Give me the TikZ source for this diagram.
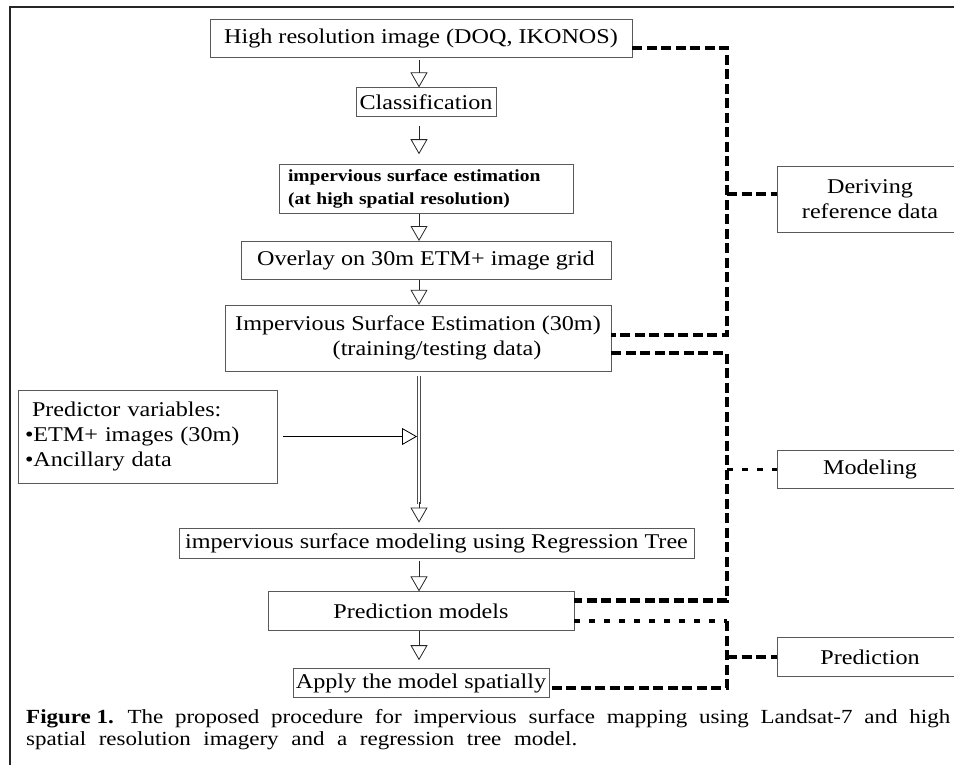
\documentclass[tikz,border=0pt]{standalone}
\usepackage{fontspec}
\setmainfont{Liberation Serif}[FakeStretch=1.15]
\usetikzlibrary{positioning,arrows.meta,calc}

\begin{document}
\begin{tikzpicture}[
  x=1pt, y=1pt,
  font=\fontsize{21}{25}\selectfont,
  box/.style={draw=black!65, line width=0.8pt, inner sep=0pt, align=center},
  small/.style={font=\bfseries\fontsize{17}{23}\selectfont},
  flow/.style={-{Triangle[open,length=15pt,width=17pt,line width=0.8pt]}, line width=1pt, black!85},
  dbl/.style={double, double distance=2.6pt, line width=0.8pt, draw=black!70},
  refl/.style={line width=4.5pt, dash pattern=on 10pt off 4.5pt},
  dotl/.style={line width=4pt, dash pattern=on 6pt off 9pt},
  mdl/.style={line width=3pt, dash pattern=on 6pt off 9pt},
  capt/.style={font=\fontsize{20}{22}\selectfont, inner sep=0pt},
]
\useasboundingbox (0,0) rectangle (954,-764);
\clip (0,0) rectangle (954,-764);
\draw[line width=1.6pt, black!85] (10,-7) rectangle (980,-790);

\coordinate (spine) at (419,0);
\coordinate (trunk) at (727,0);

% ===== main column =====
\node[box, minimum width=422pt, minimum height=38pt] (hr) at (421,-38) {High resolution image (DOQ, IKONOS)};
\node[box, minimum width=140pt, minimum height=29pt, below=30pt of hr, xshift=5pt] (cls) {Classification};
\node[box, small, text width=276pt, inner xsep=9pt, minimum height=49pt, align=left, below=47pt of cls] (hse)
  {impervious surface estimation\\(at high spatial resolution)};
\node[box, minimum width=370pt, minimum height=38pt, below=27pt of hse] (ovl) {Overlay on 30m ETM+ image grid};
\node[box, minimum width=386pt, minimum height=66pt, below=25pt of ovl, xshift=-8pt] (ise)
  {Impervious Surface Estimation (30m)\\\hspace*{38pt}(training/testing data)};
\node[box, minimum width=515pt, minimum height=30pt, below=156pt of ise, xshift=18.5pt] (itm)
  {impervious surface modeling using Regression Tree};
\node[box, minimum width=306pt, minimum height=39pt, below=33pt of itm, xshift=-15.5pt] (pm) {Prediction models};
\node[box, minimum width=256pt, minimum height=29pt, below=37pt of pm] (app) {Apply the model spatially};

% ===== predictor variables =====
\node[box, text width=245pt, inner xsep=7pt, minimum height=93pt, align=left] (pred) at (147.5,-436.5)
  {\hspace*{7pt}Predictor variables:\\•ETM+ images (30m)\\•Ancillary data};

% ===== stages on the right =====
\node[box, minimum width=186pt, minimum height=66pt] (deriv) at (870,-199) {Deriving\\reference data};
\node[box, minimum width=186pt, minimum height=38pt, below=218pt of deriv] (model) {Modeling};
\node[box, minimum width=186pt, minimum height=39pt, below=148pt of model] (prd) {Prediction};

% ===== caption =====
\node[capt, anchor=north west] (cap) at (26,-709)
  {\vbox{\baselineskip=22pt
   \hbox to 924pt{\textbf{Figure 1.} \hfil The \hfil proposed \hfil procedure \hfil for \hfil impervious \hfil surface \hfil mapping \hfil using \hfil Landsat-7 \hfil and \hfil high}
   \hbox to 551pt{spatial \hfil resolution \hfil imagery \hfil and \hfil a \hfil regression \hfil tree \hfil model.}}};

% ===== flow arrows =====
\draw[flow, shorten <=3pt] (hr.south -| spine) -- (cls.north -| spine);
\draw[flow, shorten <=9pt, shorten >=10pt] (cls.south -| spine) -- (hse.north -| spine);
\draw[flow] (hse.south -| spine) -- (ovl.north -| spine);
\draw[flow] (ovl.south -| spine) -- (ise.north -| spine);
% double line down to the regression tree
\draw[dbl] ($(ise.south -| spine)+(0,-4pt)$) -- ($(itm.north -| spine)+(0,24pt)$);
\draw[flow] ($(itm.north -| spine)+(0,26pt)$) -- ($(itm.north -| spine)+(0,5pt)$);
\draw[flow, line width=1.8pt, black, shorten <=6pt, shorten >=2pt] (pred.east) -- (pred.east -| spine);
\draw[flow, shorten <=3pt] (itm.south -| spine) -- (pm.north -| spine);
\draw[flow, shorten >=8pt] (pm.south -| spine) -- (app.north -| spine);

% ===== dashed grouping lines =====
\coordinate (t1) at ([yshift=3pt]ise.east);
\coordinate (t2) at ([yshift=-15pt]ise.east);
\coordinate (t3) at ([yshift=11pt]pm.east);
\coordinate (t4) at ([yshift=-10pt]pm.east);
\coordinate (t5) at ([yshift=-5pt]app.east);
\coordinate (d1) at ([yshift=5pt]deriv.west);
\draw[refl] ([yshift=-10pt]hr.east) -| (trunk |- t1) -- (t1);
\draw[refl] (trunk |- d1) -- (d1);
\draw[refl] (t2) -| (trunk |- t3) -- (t3);
\draw[mdl] (trunk |- model.west) -- (model.west);
\draw[dotl] (t4) -- (trunk |- t4);
\draw[refl] (trunk |- t4) -- (trunk |- t5) -- (t5);
\draw[refl] (trunk |- prd.west) -- (prd.west);
\end{tikzpicture}
\end{document}
